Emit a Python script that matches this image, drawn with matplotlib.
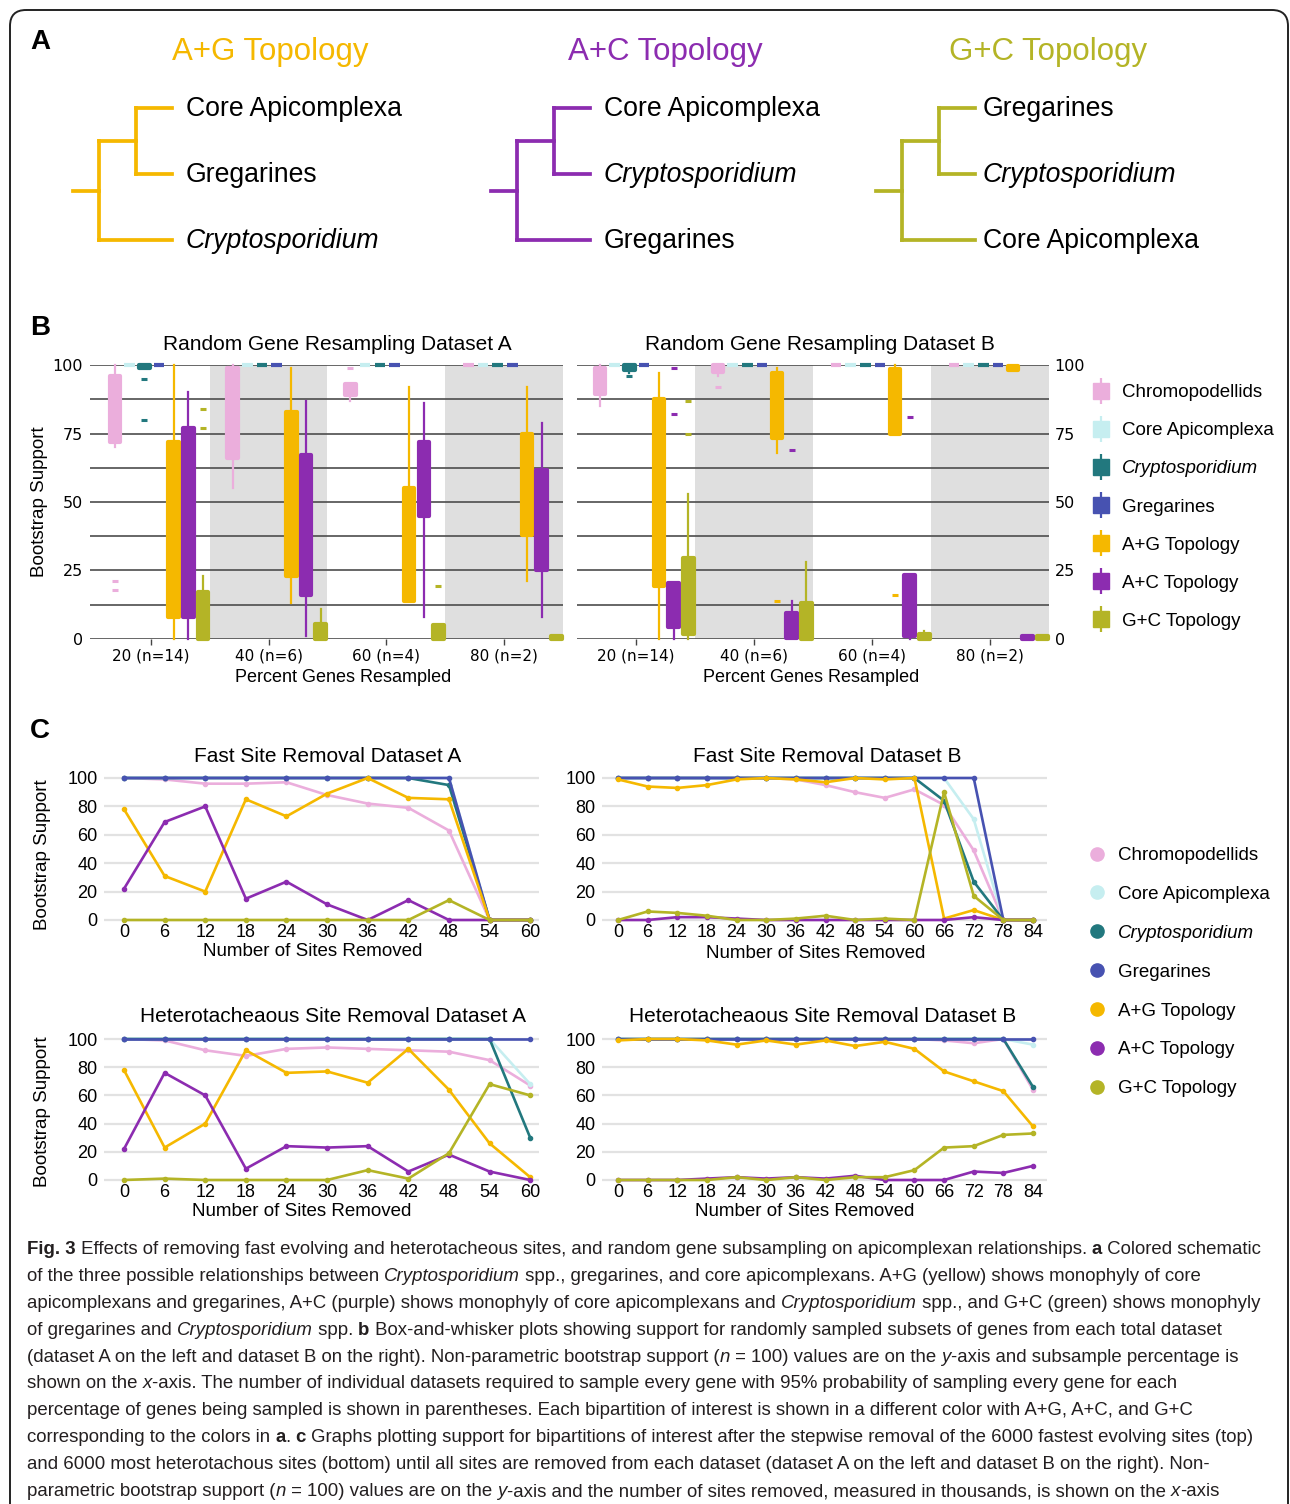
import numpy as np
import matplotlib
matplotlib.use('Agg')
import matplotlib.pyplot as plt
from matplotlib.lines import Line2D
from matplotlib.patches import FancyBboxPatch
from matplotlib.collections import LineCollection

W, H = 1290, 1504
SANS = 'Liberation Sans'
plt.rcParams['font.family'] = [SANS, 'DejaVu Sans']

# ------------------------------------------------------------------ data
series = ['Chromopodellids', 'Core Apicomplexa', 'Cryptosporidium', 'Gregarines',
          'A+G Topology', 'A+C Topology', 'G+C Topology']
colors = ['#EBAEDC', '#C6EEF0', '#22787E', '#4752B1', '#F5B800', '#8C2CB0', '#B4B426']

topologies = ['A+G Topology', 'A+C Topology', 'G+C Topology']
topo_colors = ['#F5B800', '#8C2CB0', '#B4B426']
topology_leaves = [['Core Apicomplexa', 'Gregarines', 'Cryptosporidium'],
                   ['Core Apicomplexa', 'Cryptosporidium', 'Gregarines'],
                   ['Gregarines', 'Cryptosporidium', 'Core Apicomplexa']]

percent_labels = ['20 (n=14)', '40 (n=6)', '60 (n=4)', '80 (n=2)']

# Box statistics, rows follow `series`, columns follow `percent_labels`
bA_q1 = [[72, 66, 89, 100], [100, 100, 100, 100], [99, 100, 100, 100], [100, 100, 100, 100],
         [8, 23, 14, 38], [8, 16, 45, 25], [0, 0, 0, 0]]
bA_q3 = [[96, 99, 93, 100], [100, 100, 100, 100], [100, 100, 100, 100], [100, 100, 100, 100],
         [72, 83, 55, 75], [77, 67, 72, 61.5], [17, 5.5, 5, 1]]
bA_lo = [[70, 55, 87, 100], [100, 100, 100, 100], [99, 100, 100, 100], [100, 100, 100, 100],
         [0, 13, 14, 21], [0, 1, 8, 8], [0, 0, 0, 0]]
bA_hi = [[100, 100, 93, 100], [100, 100, 100, 100], [100, 100, 100, 100], [100, 100, 100, 100],
         [100, 99, 92, 92], [90, 87, 86, 79], [23, 11, 5, 1]]
bA_out = [[[21, 18], [], [99], []], [[], [], [], []], [[95, 80], [], [], []], [[], [], [], []],
          [[], [], [], []], [[], [], [], []], [[84, 77], [], [19.5], []]]

bB_q1 = [[89.5, 97.5, 100, 100], [100, 100, 100, 100], [98, 100, 100, 100], [100, 100, 100, 100],
         [19.5, 73.5, 75, 98], [4.5, 0.5, 1, 0], [2, 0, 0, 0]]
bB_q3 = [[99, 100, 100, 100], [100, 100, 100, 100], [100, 100, 100, 100], [100, 100, 100, 100],
         [87.5, 97, 98.5, 99.5], [20.5, 9.5, 23.5, 1], [29.5, 13, 2, 1]]
bB_lo = [[85, 96, 100, 100], [100, 100, 100, 100], [97, 100, 100, 100], [100, 100, 100, 100],
         [0, 68, 75, 98], [0, 0.5, 0, 0], [0, 0, 0, 0]]
bB_hi = [[100, 100, 100, 100], [100, 100, 100, 100], [100, 100, 100, 100], [100, 100, 100, 100],
         [97, 99, 100, 99.5], [20.5, 14, 23.5, 1], [53, 28, 3, 1]]
bB_out = [[[], [92], [], []], [[], [], [], []], [[96], [], [], []], [[], [], [], []],
          [[], [14], [16], []], [[99, 82], [69], [81], []], [[87, 75], [], [], []]]

sites_A = [0, 6, 12, 18, 24, 30, 36, 42, 48, 54, 60]
sites_B = [0, 6, 12, 18, 24, 30, 36, 42, 48, 54, 60, 66, 72, 78, 84]

fast_A = [[100, 99, 96, 96, 97, 88, 82, 79, 63, 0, 0],
          [100, 100, 100, 100, 100, 100, 100, 100, 100, 0, 0],
          [100, 100, 100, 100, 100, 100, 100, 100, 95, 0, 0],
          [100, 100, 100, 100, 100, 100, 100, 100, 100, 0, 0],
          [78, 31, 20, 85, 73, 89, 100, 86, 85, 0, 0],
          [22, 69, 80, 15, 27, 11, 0, 14, 0, 0, 0],
          [0, 0, 0, 0, 0, 0, 0, 0, 14, 0, 0]]
fast_B = [[100, 100, 100, 100, 100, 100, 99, 95, 90, 86, 92, 81, 49, 0, 0],
          [100, 100, 100, 100, 100, 100, 100, 100, 100, 100, 100, 100, 71, 0, 0],
          [100, 100, 100, 100, 100, 100, 100, 100, 100, 100, 100, 84, 27, 0, 0],
          [100, 100, 100, 100, 100, 100, 100, 100, 100, 100, 100, 100, 100, 0, 0],
          [99, 94, 93, 95, 99, 100, 99, 97, 100, 99, 100, 1, 7, 0, 0],
          [0, 0, 2, 2, 1, 0, 0, 0, 0, 0, 0, 0, 2, 0, 0],
          [0, 6, 5, 3, 0, 0, 1, 3, 0, 1, 0, 90, 17, 0, 0]]
het_A = [[100, 99, 92, 88, 93, 94, 93, 92, 91, 85, 67],
         [100, 100, 100, 100, 100, 100, 100, 100, 100, 100, 68],
         [100, 100, 100, 100, 100, 100, 100, 100, 100, 100, 30],
         [100, 100, 100, 100, 100, 100, 100, 100, 100, 100, 100],
         [78, 23, 40, 92, 76, 77, 69, 93, 64, 26, 2],
         [22, 76, 60, 8, 24, 23, 24, 6, 18, 6, 0],
         [0, 1, 0, 0, 0, 0, 7, 1, 19, 68, 60]]
het_B = [[100, 100, 100, 100, 100, 100, 100, 100, 100, 100, 100, 99, 97, 100, 64],
         [100, 100, 100, 100, 100, 100, 100, 100, 100, 100, 100, 100, 100, 100, 96],
         [100, 100, 100, 100, 100, 100, 100, 100, 100, 100, 100, 100, 100, 100, 66],
         [100, 100, 100, 100, 100, 100, 100, 100, 100, 100, 100, 100, 100, 100, 100],
         [99, 100, 100, 99, 96, 99, 96, 99, 95, 98, 93, 77, 70, 63, 38],
         [0, 0, 0, 1, 2, 1, 2, 1, 3, 0, 0, 0, 6, 5, 10],
         [0, 0, 0, 0, 2, 0, 2, 0, 2, 2, 7, 23, 24, 32, 33]]

caption_lines = [
    [('Fig. 3', 'b'), (' Effects of removing fast evolving and heterotacheous sites, and random gene subsampling on apicomplexan relationships. ', 'r'), ('a', 'b'), (' Colored schematic', 'r')],
    [('of the three possible relationships between ', 'r'), ('Cryptosporidium', 'i'), (' spp., gregarines, and core apicomplexans. A+G (yellow) shows monophyly of core', 'r')],
    [('apicomplexans and gregarines, A+C (purple) shows monophyly of core apicomplexans and ', 'r'), ('Cryptosporidium', 'i'), (' spp., and G+C (green) shows monophyly', 'r')],
    [('of gregarines and ', 'r'), ('Cryptosporidium', 'i'), (' spp. ', 'r'), ('b', 'b'), (' Box-and-whisker plots showing support for randomly sampled subsets of genes from each total dataset', 'r')],
    [('(dataset A on the left and dataset B on the right). Non-parametric bootstrap support (', 'r'), ('n', 'i'), (' = 100) values are on the ', 'r'), ('y', 'i'), ('-axis and subsample percentage is', 'r')],
    [('shown on the ', 'r'), ('x', 'i'), ('-axis. The number of individual datasets required to sample every gene with 95% probability of sampling every gene for each', 'r')],
    [('percentage of genes being sampled is shown in parentheses. Each bipartition of interest is shown in a different color with A+G, A+C, and G+C', 'r')],
    [('corresponding to the colors in ', 'r'), ('a', 'b'), ('. ', 'r'), ('c', 'b'), (' Graphs plotting support for bipartitions of interest after the stepwise removal of the 6000 fastest evolving sites (top)', 'r')],
    [('and 6000 most heterotachous sites (bottom) until all sites are removed from each dataset (dataset A on the left and dataset B on the right). Non-', 'r')],
    [('parametric bootstrap support (', 'r'), ('n', 'i'), (' = 100) values are on the ', 'r'), ('y', 'i'), ('-axis and the number of sites removed, measured in thousands, is shown on the ', 'r'), ('x', 'i'), ('-axis', 'r')],
]

# ------------------------------------------------------------------ figure
fig = plt.figure(figsize=(W / 100, H / 100), dpi=100)
fig.patch.set_facecolor('white')
ax0 = fig.add_axes([0, 0, 1, 1])
ax0.set_xlim(0, W)
ax0.set_ylim(H, 0)
ax0.axis('off')


def rect(x0, y0, x1, y1):
    return [x0 / W, 1 - y1 / H, (x1 - x0) / W, (y1 - y0) / H]


# outer frame
ax0.add_patch(FancyBboxPatch((10, 10), 1278, 1700, boxstyle='round,pad=0,rounding_size=16',
                             lw=1.4, ec='#222222', fc='none'))

# panel letters
for lab, (x, y) in zip(['A', 'B', 'C'], [(40, 42), (40, 328), (40, 731)]):
    ax0.text(x, y, lab, fontsize=20, fontweight='bold', ha='center', va='center')

# ------------------------------------------------------------------ panel A
tree_x0 = [73, 491, 876]
label_x = [186, 604, 983]
title_cx = [270, 665, 1048]
leaf_y = [108, 174, 240]
for k, (name, leaves, c) in enumerate(zip(topologies, topology_leaves, topo_colors)):
    x0 = tree_x0[k]
    xr, xi, xl = x0 + 26, x0 + 63, x0 + 99
    yi = (leaf_y[0] + leaf_y[1]) / 2
    yr = (yi + leaf_y[2]) / 2
    segs = [[(x0, yr), (xr, yr)], [(xr, yi), (xr, leaf_y[2])], [(xr, yi), (xi, yi)],
            [(xi, leaf_y[0]), (xi, leaf_y[1])], [(xi, leaf_y[0]), (xl, leaf_y[0])],
            [(xi, leaf_y[1]), (xl, leaf_y[1])], [(xr, leaf_y[2]), (xl, leaf_y[2])]]
    ax0.add_collection(LineCollection(segs, colors=c, linewidths=2.7, capstyle='projecting'))
    ax0.text(title_cx[k], 52, name, color=c, fontsize=22.5, ha='center', va='center')
    for ly, leaf in zip(leaf_y, leaves):
        ax0.text(label_x[k], ly + 1, leaf, fontsize=19.2, ha='left', va='center',
                 style='italic' if leaf == 'Cryptosporidium' else 'normal')

# ------------------------------------------------------------------ panel B
box_offset0, box_step, box_w = -0.305, 0.1246, 0.09


def draw_boxes(ax, q1, q3, lo, hi, out):
    ng = len(percent_labels)
    for i, c in enumerate(colors):
        stats = []
        for g in range(ng):
            stats.append(dict(q1=q1[i][g], q3=q3[i][g], med=(q1[i][g] + q3[i][g]) / 2,
                              whislo=lo[i][g], whishi=hi[i][g], fliers=out[i][g]))
        pos = np.arange(1, ng + 1) + box_offset0 + box_step * i
        art = ax.bxp(stats, positions=pos, widths=box_w, patch_artist=True, showcaps=False,
                     boxprops=dict(facecolor=c, edgecolor=c, linewidth=3.0, joinstyle='round'),
                     whiskerprops=dict(color=c, linewidth=1.6),
                     medianprops=dict(linewidth=0),
                     flierprops=dict(marker='_', markeredgecolor=c, markerfacecolor=c,
                                     markersize=5, markeredgewidth=2.2),
                     manage_ticks=False, zorder=3)
        for arts in art.values():
            for a in arts:
                a.set_clip_on(False)


def style_box_axes(ax, right):
    ax.set_facecolor('none')
    ax.set_xlim(0.5 if right else 0.5 - 2 / 118, 4.5)
    ax.set_ylim(0, 100)
    ax.axvspan(1.5, 2.5, color='#DFDFDF', zorder=0, lw=0)
    ax.axvspan(3.5, 4.5, color='#DFDFDF', zorder=0, lw=0)
    for yv in np.arange(0, 100.1, 12.5):
        ax.axhline(yv, color='#4D4D4D', lw=1.2, zorder=1)
    for s in ax.spines.values():
        s.set_visible(False)
    ax.set_xticks(np.arange(1, len(percent_labels) + 1))
    ax.set_xticklabels(percent_labels)
    ax.set_yticks([0, 25, 50, 75, 100])
    ax.tick_params(axis='x', length=4, width=1, color='#444444', pad=3, labelsize=11)
    ax.tick_params(axis='y', length=0, pad=5, labelsize=11.5)
    if right:
        ax.yaxis.tick_right()
        ax.tick_params(axis='y', pad=4)
    for t in ax.get_xticklabels() + ax.get_yticklabels():
        t.set_fontfamily('DejaVu Sans')


axBA = fig.add_axes(rect(90, 365, 563, 639))
style_box_axes(axBA, False)
draw_boxes(axBA, bA_q1, bA_q3, bA_lo, bA_hi, bA_out)

axBB = fig.add_axes(rect(577, 365, 1049, 639))
style_box_axes(axBB, True)
draw_boxes(axBB, bB_q1, bB_q3, bB_lo, bB_hi, bB_out)

ax0.text(337, 345, 'Random Gene Resampling Dataset A', fontsize=15, ha='center', va='center')
ax0.text(820, 345, 'Random Gene Resampling Dataset B', fontsize=15, ha='center', va='center')
ax0.text(343, 678, 'Percent Genes Resampled', fontsize=13, ha='center', va='center')
ax0.text(811, 678, 'Percent Genes Resampled', fontsize=13, ha='center', va='center')
ax0.text(40, 502, 'Bootstrap Support', fontsize=13.5, rotation=90, ha='center', va='center')

handlesB = [(Line2D([], [], color=c, marker='|', markersize=19, mew=1.6, ls='none'),
             Line2D([], [], color=c, marker='s', markersize=12, ls='none')) for c in colors]
legB = fig.legend(handlesB, series, loc='upper left', bbox_to_anchor=(1092 / W, 1 - 384 / H),
                  frameon=False, fontsize=13.5, handlelength=1.0, handletextpad=0.6,
                  borderpad=0, borderaxespad=0, labelspacing=1.12)
legB.get_texts()[2].set_style('italic')

# ------------------------------------------------------------------ panel C


def line_panel(box, xs, data, xlim):
    ax = fig.add_axes(box)
    ax.set_facecolor('none')
    for yv in range(0, 101, 20):
        ax.axhline(yv, color='#E2E2E2', lw=1.6, zorder=0)
    for vals, c in zip(data, colors):
        ax.plot(xs, vals, color=c, lw=1.9, marker='o', ms=3, zorder=2, clip_on=False)
    ax.set_xlim(*xlim)
    ax.set_ylim(-2, 102)
    ax.set_xticks(xs)
    ax.set_yticks(range(0, 101, 20))
    for s in ax.spines.values():
        s.set_visible(False)
    ax.tick_params(length=0, labelsize=13)
    ax.tick_params(axis='x', pad=1)
    ax.tick_params(axis='y', pad=4.5)
    return ax


def px_axes(x0, x1, y100, y0):
    u = (y0 - y100) / 100.0
    return rect(x0, y100 - 2 * u, x1, y0 + 2 * u)


xA = 6.77
xlimA = ((104 - 124) / xA, (539 - 124) / xA)
xB = (1033 - 618) / 84.0
xlimB = ((602 - 618) / xB, (1047 - 618) / xB)

line_panel(px_axes(104, 539, 778, 920), sites_A, fast_A, xlimA)
line_panel(px_axes(602, 1047, 778, 920), sites_B, fast_B, xlimB)
line_panel(px_axes(104, 539, 1039, 1180), sites_A, het_A, xlimA)
line_panel(px_axes(602, 1047, 1039, 1180), sites_B, het_B, xlimB)

ax0.text(328, 756, 'Fast Site Removal Dataset A', fontsize=15, ha='center', va='center')
ax0.text(827, 756, 'Fast Site Removal Dataset B', fontsize=15, ha='center', va='center')
ax0.text(333, 1017, 'Heterotacheaous Site Removal Dataset A', fontsize=15, ha='center', va='center')
ax0.text(823, 1017, 'Heterotacheaous Site Removal Dataset B', fontsize=15, ha='center', va='center')
for cx, cy in [(313, 951), (816, 953), (302, 1211), (805, 1212)]:
    ax0.text(cx, cy, 'Number of Sites Removed', fontsize=13.5, ha='center', va='center')
for cy in [855, 1112]:
    ax0.text(43, cy, 'Bootstrap Support', fontsize=13.5, rotation=90, ha='center', va='center')

handlesC = [Line2D([], [], color=c, marker='o', markersize=9.5, ls='none') for c in colors]
legC = fig.legend(handlesC, series, loc='upper left', bbox_to_anchor=(1088 / W, 1 - 847 / H),
                  frameon=False, fontsize=13.5, handlelength=1.0, handletextpad=0.6,
                  borderpad=0, borderaxespad=0, labelspacing=1.16)
legC.get_texts()[2].set_style('italic')

# ------------------------------------------------------------------ caption
cap_font = SANS
renderer = fig.canvas.get_renderer()


def style_kw(st, size):
    kw = dict(fontsize=size, family=[cap_font, 'DejaVu Sans'])
    if st == 'b':
        kw['fontweight'] = 'bold'
    if st == 'i':
        kw['style'] = 'italic'
    return kw


def frag_width(txt, st, size):
    t1 = ax0.text(0, 0, '|' + txt + '|', **style_kw(st, size))
    t2 = ax0.text(0, 0, '||', **style_kw(st, size))
    w = t1.get_window_extent(renderer).width - t2.get_window_extent(renderer).width
    t1.remove()
    t2.remove()
    return w


base = 12.0
widest = max(sum(frag_width(t, s, base) for t, s in line) for line in caption_lines)
cap_size = base * 1243.0 / widest

y_first, pitch = 1254, 26.9
for li, line in enumerate(caption_lines):
    x = 27
    y = y_first + li * pitch
    for t, s in line:
        ax0.text(x, y, t, ha='left', va='baseline', color='#231F20', **style_kw(s, cap_size))
        x += frag_width(t, s, cap_size)

fig.savefig('out.png', dpi=100)
